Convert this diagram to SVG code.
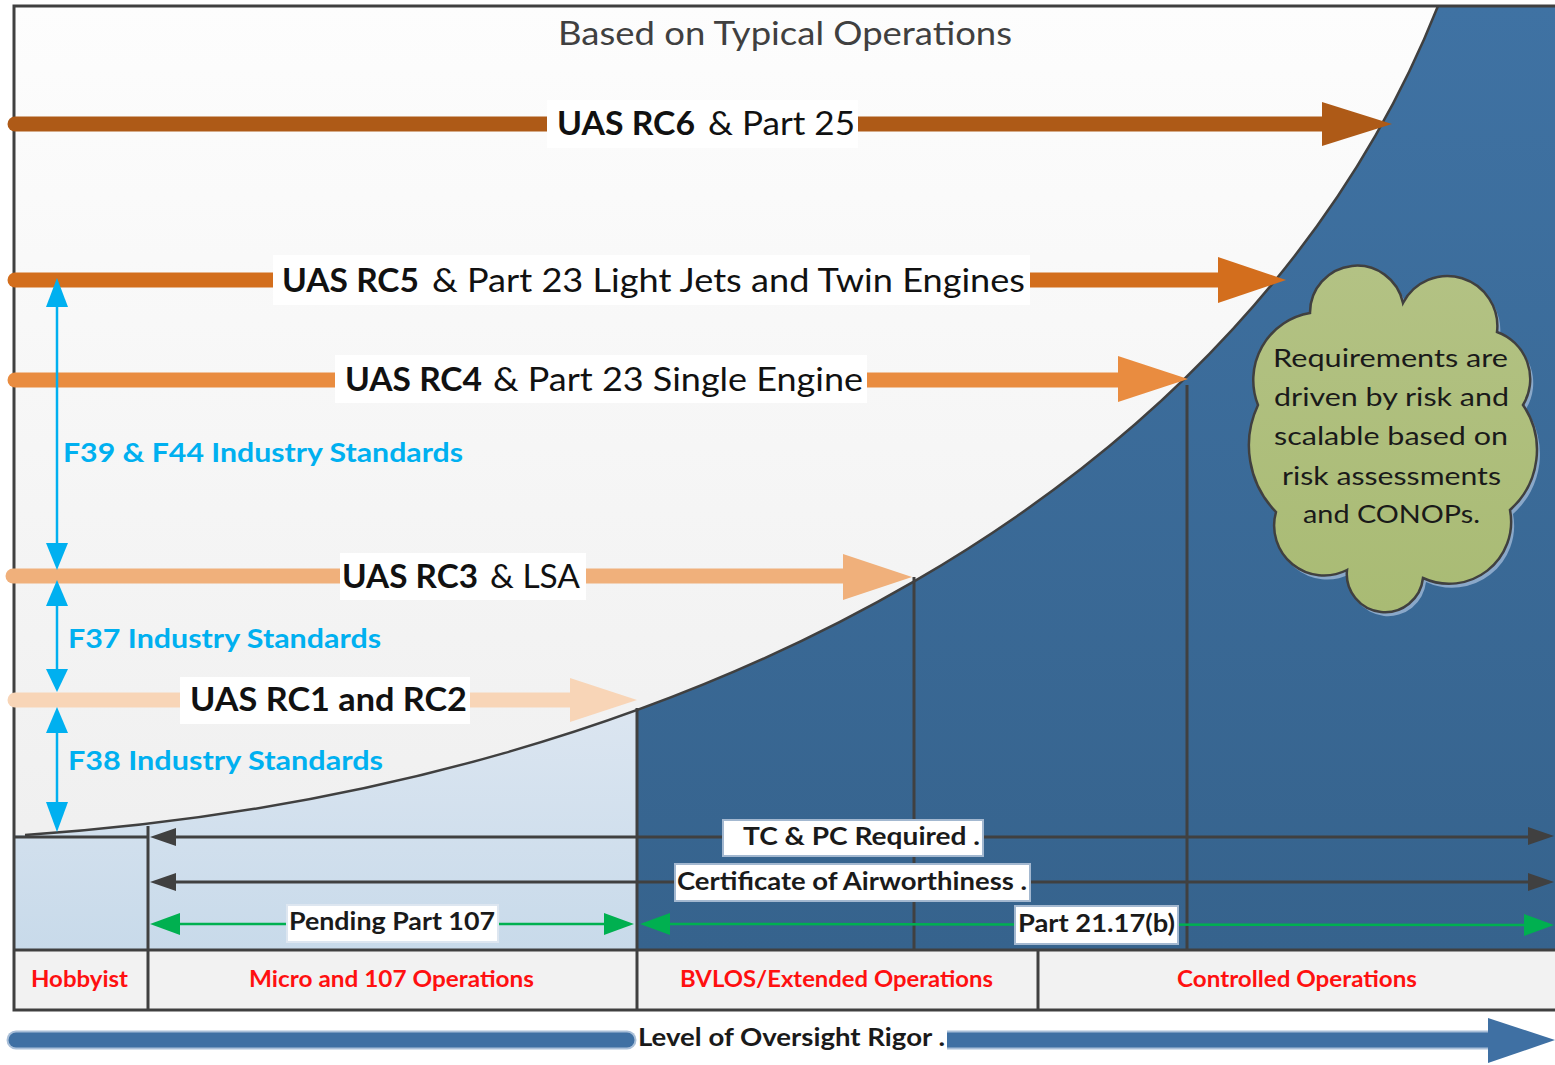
<svg xmlns="http://www.w3.org/2000/svg" width="1555" height="1065" viewBox="0 0 1555 1065">
<defs>
<linearGradient id="bg" x1="0" y1="6" x2="0" y2="950" gradientUnits="userSpaceOnUse">
<stop offset="0" stop-color="#FDFDFD"/><stop offset="1" stop-color="#EEEEEE"/>
</linearGradient>
<linearGradient id="lb" x1="0" y1="700" x2="0" y2="950" gradientUnits="userSpaceOnUse">
<stop offset="0" stop-color="#DCE6F1"/><stop offset="1" stop-color="#C8DAEA"/>
</linearGradient>
<linearGradient id="db" x1="0" y1="6" x2="0" y2="950" gradientUnits="userSpaceOnUse">
<stop offset="0" stop-color="#3F72A3"/><stop offset="1" stop-color="#36638D"/>
</linearGradient>
<linearGradient id="cl" x1="0" y1="267" x2="0" y2="612" gradientUnits="userSpaceOnUse">
<stop offset="0" stop-color="#B3C284"/><stop offset="1" stop-color="#A9BB74"/>
</linearGradient>
<clipPath id="under">
<path d="M25,835 C700,790 1250,480 1438,6 L1555,6 L1555,950 L14,950 L14,835 Z"/>
</clipPath>
<style>
.t{font-family:Lato,"Liberation Sans",sans-serif;}
.rc{font-size:32px;fill:#111;}
.b{font-weight:bold;}
.std{font-size:27px;font-weight:bold;fill:#00B0F0;}
.grid{stroke:#404040;stroke-width:3;fill:none;}
.lbl{fill:#FFFFFF;stroke:#A3B8D0;stroke-width:2;}
.lt{font-size:24px;font-weight:bold;fill:#1A1A1A;}
.red{font-size:22px;font-weight:bold;fill:#FF1010;}
.cloudt{font-size:25px;fill:#1A1A1A;}
.dk{stroke:#404040;stroke-width:3;}
.gr{stroke:#00B050;stroke-width:2.5;}
.bl{stroke:#00B0F0;stroke-width:2.5;}
</style>
</defs>

<g id="background">
<rect x="14" y="6" width="1545" height="944" fill="url(#bg)"/>
<rect x="14" y="0" width="623" height="950" fill="url(#lb)" clip-path="url(#under)"/>
<rect x="637" y="0" width="920" height="950" fill="url(#db)" clip-path="url(#under)"/>
<path d="M25,835 C700,790 1250,480 1438,6" fill="none" stroke="#404040" stroke-width="2.5"/>
<rect x="14" y="950" width="1545" height="60" fill="#F2F2F2"/>
</g>

<g id="grid">
<path class="grid" d="M1557,6 L14,6 L14,1010 L1557,1010"/>
<line class="grid" x1="14" y1="950" x2="1557" y2="950"/>
<line class="grid" x1="14" y1="837" x2="148" y2="837"/>
<line class="grid" x1="148" y1="826" x2="148" y2="1010"/>
<line class="grid" x1="637" y1="708" x2="637" y2="1010"/>
<line class="grid" x1="914" y1="577" x2="914" y2="950"/>
<line class="grid" x1="1187" y1="385" x2="1187" y2="950"/>
<line class="grid" x1="1038" y1="950" x2="1038" y2="1010"/>
</g>

<g id="cloud">
<path transform="translate(3,4)" fill="#8AA8C9" d="M1310,313 A47,47 0 0 1 1403,303 A50,50 0 0 1 1497,332 A50,50 0 0 1 1523,405 A80,80 0 0 1 1510,510 A62,62 0 0 1 1423,578 A38,38 0 0 1 1347,570 A50,50 0 0 1 1276,512 A95,95 0 0 1 1258,405 A68,68 0 0 1 1310,313 Z"/>
<path fill="url(#cl)" stroke="#404040" stroke-width="2.5" d="M1310,313 A47,47 0 0 1 1403,303 A50,50 0 0 1 1497,332 A50,50 0 0 1 1523,405 A80,80 0 0 1 1510,510 A62,62 0 0 1 1423,578 A38,38 0 0 1 1347,570 A50,50 0 0 1 1276,512 A95,95 0 0 1 1258,405 A68,68 0 0 1 1310,313 Z"/>
<text class="t cloudt" x="1273" y="367" textLength="235" lengthAdjust="spacingAndGlyphs">Requirements are</text>
<text class="t cloudt" x="1274" y="406" textLength="235" lengthAdjust="spacingAndGlyphs">driven by risk and</text>
<text class="t cloudt" x="1274" y="445" textLength="234" lengthAdjust="spacingAndGlyphs">scalable based on</text>
<text class="t cloudt" x="1282" y="485" textLength="219" lengthAdjust="spacingAndGlyphs">risk assessments</text>
<text class="t cloudt" x="1303" y="523" textLength="177" lengthAdjust="spacingAndGlyphs">and CONOPs.</text>
</g>

<g id="title">
<text class="t" x="558" y="45" font-size="32" fill="#404040" textLength="454" lengthAdjust="spacingAndGlyphs">Based on Typical Operations</text>
</g>

<g id="connectors">
<g id="rc6">
<line x1="15" y1="124" x2="1324" y2="124" stroke="#AE5A17" stroke-width="15" stroke-linecap="round"/>
<polygon points="1322,102 1392,124 1322,146" fill="#AE5A17"/>
</g>
<g id="rc5">
<line x1="15" y1="280" x2="1220" y2="280" stroke="#D36E1D" stroke-width="15" stroke-linecap="round"/>
<polygon points="1218,257 1286,280 1218,303" fill="#D36E1D"/>
</g>
<g id="rc4">
<line x1="15" y1="380" x2="1120" y2="380" stroke="#E98C40" stroke-width="15" stroke-linecap="round"/>
<polygon points="1118,356 1188,379 1118,402" fill="#E98C40"/>
</g>
<g id="rc3">
<line x1="13" y1="576" x2="845" y2="576" stroke="#F0B07B" stroke-width="15" stroke-linecap="round"/>
<polygon points="843,554 912,577 843,600" fill="#F0B07B"/>
</g>
<g id="rc12">
<line x1="15" y1="700" x2="572" y2="700" stroke="#F8D5B7" stroke-width="15" stroke-linecap="round"/>
<polygon points="570,678 637,700 570,722" fill="#F8D5B7"/>
</g>

<g id="std-arrows">
<line class="bl" x1="57" y1="300" x2="57" y2="548"/>
<polygon points="57,278 46,307 68,307" fill="#00B0F0"/>
<polygon points="57,570 46,543 68,543" fill="#00B0F0"/>
<line class="bl" x1="57" y1="600" x2="57" y2="672"/>
<polygon points="57,580 46,606 68,606" fill="#00B0F0"/>
<polygon points="57,692 46,669 68,669" fill="#00B0F0"/>
<line class="bl" x1="57" y1="728" x2="57" y2="806"/>
<polygon points="57,707 46,733 68,733" fill="#00B0F0"/>
<polygon points="57,832 46,802 68,802" fill="#00B0F0"/>
</g>

<g id="cert-arrows">
<line class="dk" x1="170" y1="837" x2="1533" y2="837"/>
<polygon points="150,837 176,828 176,846" fill="#404040"/>
<polygon points="1554,836 1528,827 1528,845" fill="#404040"/>
<line class="dk" x1="170" y1="882" x2="1533" y2="882"/>
<polygon points="150,882 176,873 176,891" fill="#404040"/>
<polygon points="1554,882 1528,873 1528,891" fill="#404040"/>
<line class="gr" x1="170" y1="924" x2="615" y2="924"/>
<polygon points="150,924 180,913 180,935" fill="#00B050"/>
<polygon points="634,924 604,913 604,935" fill="#00B050"/>
<line class="gr" x1="660" y1="924" x2="1533" y2="925"/>
<polygon points="640,924 670,913 670,935" fill="#00B050"/>
<polygon points="1554,925 1524,914 1524,936" fill="#00B050"/>
</g>

<g id="rigor-arrow">
<line x1="16" y1="1040" x2="627" y2="1040" stroke="#A9BFD8" stroke-width="19" stroke-linecap="round"/>
<line x1="16" y1="1040" x2="627" y2="1040" stroke="#3F70A3" stroke-width="15" stroke-linecap="round"/>
<line x1="947" y1="1040" x2="1492" y2="1040" stroke="#A9BFD8" stroke-width="19"/>
<line x1="947" y1="1040" x2="1492" y2="1040" stroke="#3F70A3" stroke-width="15"/>
<polygon points="1488,1018 1555,1040 1488,1063" fill="#3F70A3"/>
</g>
</g>

<g id="rc-labels">
<rect x="547" y="100" width="311" height="48" fill="#FFFFFF"/>
<text class="t rc" y="135"><tspan class="b" x="557" textLength="138" lengthAdjust="spacingAndGlyphs">UAS RC6</tspan><tspan x="708" textLength="147" lengthAdjust="spacingAndGlyphs">&amp; Part 25</tspan></text>
<rect x="273" y="255" width="757" height="50" fill="#FFFFFF"/>
<text class="t rc" y="292"><tspan class="b" x="282" textLength="137" lengthAdjust="spacingAndGlyphs">UAS RC5</tspan><tspan x="432" textLength="593" lengthAdjust="spacingAndGlyphs">&amp; Part 23 Light Jets and Twin Engines</tspan></text>
<rect x="335" y="355" width="532" height="48" fill="#FFFFFF"/>
<text class="t rc" y="391"><tspan class="b" x="345" textLength="137" lengthAdjust="spacingAndGlyphs">UAS RC4</tspan><tspan x="493" textLength="370" lengthAdjust="spacingAndGlyphs">&amp; Part 23 Single Engine</tspan></text>
<rect x="340" y="553" width="246" height="47" fill="#FFFFFF"/>
<text class="t rc" y="588"><tspan class="b" x="342" textLength="136" lengthAdjust="spacingAndGlyphs">UAS RC3</tspan><tspan x="490" textLength="90" lengthAdjust="spacingAndGlyphs">&amp; LSA</tspan></text>
<rect x="180" y="677" width="290" height="47" fill="#FFFFFF"/>
<text class="t rc b" x="190" y="711" textLength="277" lengthAdjust="spacingAndGlyphs">UAS RC1 and RC2</text>
</g>

<g id="standards">
<text class="t std" x="63" y="462" textLength="400" lengthAdjust="spacingAndGlyphs">F39 &amp; F44 Industry Standards</text>
<text class="t std" x="68" y="648" textLength="313" lengthAdjust="spacingAndGlyphs">F37 Industry Standards</text>
<text class="t std" x="68" y="770" textLength="315" lengthAdjust="spacingAndGlyphs">F38 Industry Standards</text>
</g>

<g id="cert-labels">
<rect class="lbl" x="723" y="820" width="260" height="36"/>
<text class="t lt" x="743" y="845" textLength="237" lengthAdjust="spacingAndGlyphs">TC &amp; PC Required  .</text>
<rect class="lbl" x="675" y="864" width="355" height="37"/>
<text class="t lt" x="677" y="890" textLength="350" lengthAdjust="spacingAndGlyphs">Certificate of Airworthiness .</text>
<rect x="287" y="905" width="211" height="37" fill="#FFFFFF" stroke="#DDE6F0" stroke-width="2"/>
<text class="t lt" x="289" y="930" textLength="206" lengthAdjust="spacingAndGlyphs">Pending Part 107</text>
<rect class="lbl" x="1015" y="906" width="163" height="38"/>
<text class="t lt" x="1018" y="932" textLength="157" lengthAdjust="spacingAndGlyphs">Part 21.17(b)</text>
</g>

<g id="operations">
<text class="t red" x="31" y="987" textLength="97" lengthAdjust="spacingAndGlyphs">Hobbyist</text>
<text class="t red" x="249" y="987" textLength="285" lengthAdjust="spacingAndGlyphs">Micro and 107 Operations</text>
<text class="t red" x="680" y="987" textLength="313" lengthAdjust="spacingAndGlyphs">BVLOS/Extended Operations</text>
<text class="t red" x="1177" y="987" textLength="240" lengthAdjust="spacingAndGlyphs">Controlled Operations</text>
</g>

<g id="rigor-label">
<text class="t lt" x="638" y="1046" textLength="307" lengthAdjust="spacingAndGlyphs">Level of Oversight Rigor .</text>
</g>
</svg>
